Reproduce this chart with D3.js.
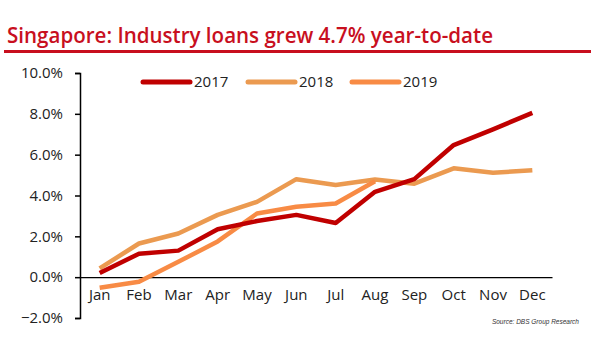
<!DOCTYPE html>
<html><head><meta charset="utf-8">
<script src="https://cdn.jsdelivr.net/npm/d3@7"></script>
<style>body{margin:0;background:#fff}svg{display:block}</style>
</head><body>
<svg id="c" width="600" height="360"></svg>
<script>
const months = ["Jan","Feb","Mar","Apr","May","Jun","Jul","Aug","Sep","Oct","Nov","Dec"];
const s2017 = [0.2,1.15,1.3,2.35,2.75,3.05,2.65,4.18,4.8,6.47,7.24,8.05];
const s2018 = [0.43,1.65,2.14,3.05,3.69,4.8,4.51,4.78,4.58,5.33,5.11,5.24];
const s2019 = [-0.52,-0.22,0.75,1.75,3.12,3.45,3.61,4.7];
const yTicks = [-2,0,2,4,6,8,10];
const seriesNames = ["2017","2018","2019"];
const colors = ["#C00000","#EB9A50","#F88B45"];
const title = "Singapore: Industry loans grew 4.7% year-to-date";
const source = "Source: DBS Group Research";

const svg = d3.select("#c");
const font = "'Open Sans', 'Noto Sans', sans-serif";

svg.append("text").attr("x",7).attr("y",43).attr("fill","#C80F1E")
  .attr("font-family",font).attr("font-weight",600).attr("font-size",21)
  .attr("textLength",486).attr("lengthAdjust","spacingAndGlyphs")
  .text(title);
svg.append("rect").attr("x",4).attr("y",50).attr("width",587).attr("height",3).attr("fill","#C80F1E");

const x = d3.scaleBand().domain(months).range([80,552]);
const y = d3.scaleLinear().domain([-2,10]).range([318,73]);

const yAxis = svg.append("g").attr("transform","translate(80,0)")
  .call(d3.axisLeft(y).tickValues(yTicks).tickFormat(d=>d3.format(".1f")(d)+"%").tickSize(5).tickPadding(12));
yAxis.select(".domain").attr("stroke","#000").attr("stroke-width",1.5);
yAxis.selectAll(".tick line").attr("stroke","#000").attr("stroke-width",1.5);
yAxis.selectAll("text").attr("font-family",font).attr("font-size",15).attr("fill","#222");

const xAxis = svg.append("g").attr("transform",`translate(0,${y(0)})`)
  .call(d3.axisBottom(x).tickSize(0).tickPadding(12));
xAxis.select(".domain").attr("stroke","#000").attr("stroke-width",1.2);
xAxis.selectAll("text").attr("font-family",font).attr("font-size",15).attr("fill","#222");

const line = d3.line().x((d,i)=>x(months[i])+x.bandwidth()/2).y(d=>y(d));
const data = [s2017,s2018,s2019];
[1,2,0].forEach(k=>{
  svg.append("path").datum(data[k]).attr("d",line).attr("fill","none")
    .attr("stroke",colors[k]).attr("stroke-width",4.5).attr("stroke-linejoin","round").attr("stroke-linecap","butt");
});

const legX = [143,248,352];
seriesNames.forEach((n,i)=>{
  svg.append("line").attr("x1",legX[i]).attr("x2",legX[i]+47).attr("y1",82).attr("y2",82)
    .attr("stroke",colors[i]).attr("stroke-width",5).attr("stroke-linecap","round");
  svg.append("text").attr("x",legX[i]+51).attr("y",87).attr("font-family",font).attr("font-size",15)
    .attr("fill","#222").text(n);
});

svg.append("text").attr("x",579).attr("y",324).attr("text-anchor","end").attr("font-family","'Liberation Sans', Arial, sans-serif")
  .attr("font-style","italic").attr("font-size",6.5).attr("fill","#333").text(source);
</script>
</body></html>
